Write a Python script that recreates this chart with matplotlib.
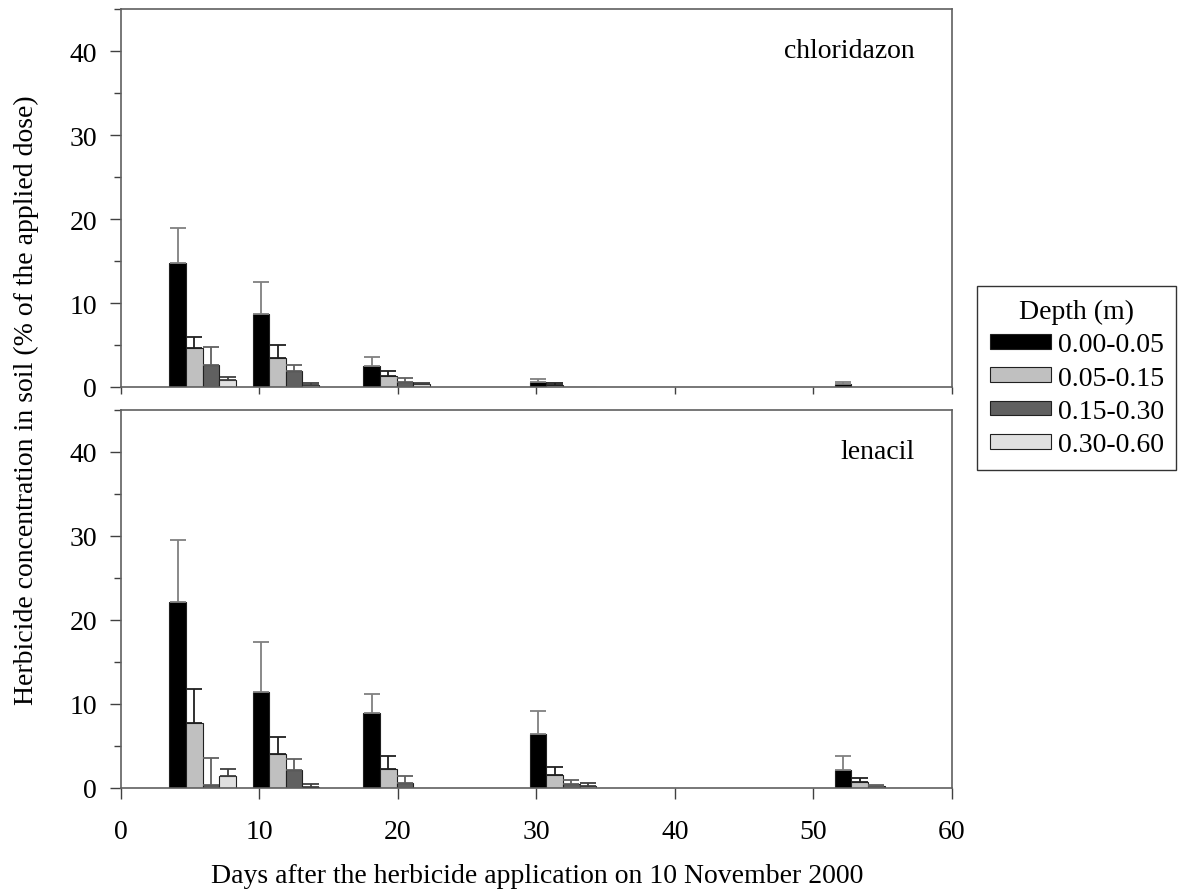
import numpy as np
import matplotlib.pyplot as plt
from matplotlib.ticker import MultipleLocator

plt.rcParams['font.family'] = ['Liberation Serif', 'DejaVu Serif']

# --- data ---
days = [4, 10, 18, 30, 52]
depths = ['0.00-0.05', '0.05-0.15', '0.15-0.30', '0.30-0.60']
colors = ['#000000', '#c0c0c0', '#606060', '#e0e0e0']
err_colors = ['#808080', '#202020', '#606060', '#404040']

chlor_mean = [
    [14.8, 8.7, 2.5, 0.6, 0.3],
    [4.7, 3.5, 1.3, 0.2, 0.0],
    [2.6, 1.9, 0.6, 0.0, 0.0],
    [0.8, 0.24, 0.3, 0.0, 0.0],
]
chlor_err = [
    [4.1, 3.8, 1.1, 0.3, 0.25],
    [1.3, 1.45, 0.65, 0.25, 0.0],
    [2.2, 0.75, 0.45, 0.0, 0.0],
    [0.35, 0.24, 0.2, 0.0, 0.0],
]
len_mean = [
    [22.1, 11.4, 8.9, 6.4, 2.1],
    [7.7, 4.0, 2.3, 1.6, 0.66],
    [0.36, 2.1, 0.6, 0.45, 0.2],
    [1.45, 0.12, 0.0, 0.2, 0.0],
]
len_err = [
    [7.4, 6.0, 2.3, 2.75, 1.65],
    [4.1, 2.1, 1.5, 0.9, 0.55],
    [3.2, 1.3, 0.8, 0.55, 0.1],
    [0.8, 0.32, 0.0, 0.35, 0.0],
]

W, H = 1183, 895
fig = plt.figure(figsize=(W / 100, H / 100), dpi=100)
left, right = 120.5 / W, 952 / W
ax1 = fig.add_axes([left, 1 - 388 / H, right - left, (388 - 10) / H])
ax2 = fig.add_axes([left, 1 - 789 / H, right - left, (789 - 410.7) / H])

width = 1.2
x = np.array(days, dtype=float) - 0.47
FS = 20


def draw_panel(ax, means, errs, label):
    handles = []
    for i in range(4):
        xs = x + i * width
        b = ax.bar(xs, means[i], width=width, align='edge', color=colors[i],
                   edgecolor='#202020', linewidth=0.8, label=depths[i], zorder=2)
        handles.append(b)
        m = np.array(means[i])
        e = np.array(errs[i])
        show = e > 0
        ax.errorbar(xs[show] + width / 2, m[show], yerr=[np.zeros(show.sum()), e[show]],
                    fmt='none', ecolor=err_colors[i], elinewidth=1.3, capsize=6,
                    capthick=1.3, zorder=3)
    ax.set_xlim(0, 60)
    ax.set_ylim(0, 45)
    ax.yaxis.set_major_locator(MultipleLocator(10))
    ax.yaxis.set_minor_locator(MultipleLocator(5))
    ax.xaxis.set_major_locator(MultipleLocator(10))
    ax.tick_params(axis='both', which='major', direction='out', length=8, width=1,
                   labelsize=FS, color='#404040')
    ax.tick_params(axis='y', which='minor', direction='out', length=5, width=1, color='#404040')
    ax.tick_params(axis='x', pad=14)
    ax.tick_params(axis='y', pad=9)
    for s in ax.spines.values():
        s.set_color('#606060')
        s.set_linewidth(1.2)
    ax.text(0.955, 0.89, label, transform=ax.transAxes, ha='right', va='center', fontsize=FS)
    return handles


handles = draw_panel(ax1, chlor_mean, chlor_err, 'chloridazon')
draw_panel(ax2, len_mean, len_err, 'lenacil')
ax1.tick_params(axis='x', which='major', length=5, labelbottom=False)

fig.text(26 / W, 1 - 400 / H, 'Herbicide concentration in soil (% of the applied dose)',
         rotation=90, ha='center', va='center', fontsize=FS)
fig.text(537 / W, 1 - 877 / H, 'Days after the herbicide application on 10 November 2000',
         ha='center', va='center', fontsize=FS)

leg = fig.legend(handles, depths, title='Depth (m)', loc='center left',
                 bbox_to_anchor=(977 / W, 1 - 379 / H), borderaxespad=0, fontsize=FS,
                 title_fontsize=FS, frameon=True, fancybox=False, handlelength=2.2,
                 handleheight=0.45, handletextpad=0.25, labelspacing=0.3, borderpad=0.45)
leg.get_frame().set_edgecolor('#000000')
leg.get_frame().set_linewidth(1.0)

fig.savefig('out.png', dpi=100)
